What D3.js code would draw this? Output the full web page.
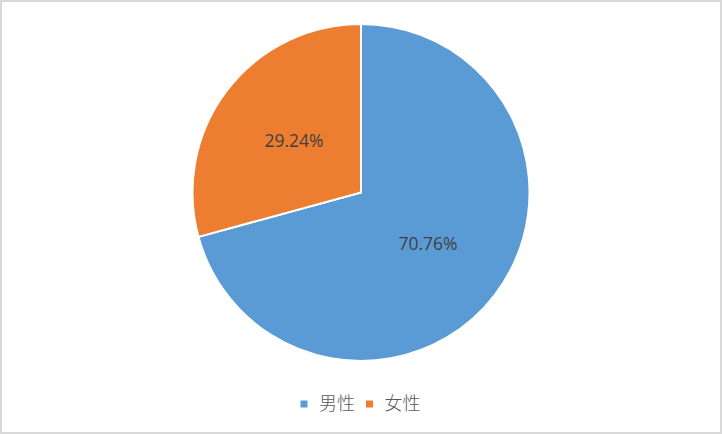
<!DOCTYPE html>
<html>
<head>
<meta charset="utf-8">
<script src="https://cdn.jsdelivr.net/npm/d3@7"></script>
<style>
  html, body { margin: 0; padding: 0; background: #fff; }
  svg { display: block; }
</style>
</head>
<body>
<div id="chart"></div>
<script>
const categories = ["男性", "女性"];
const shares = [70.76, 29.24];
const sliceColors = ["#5B9BD5", "#ED7D31"];

const W = 722, H = 434;
const cx = 361, cy = 192.5, radius = 168.5;

const svg = d3.select("#chart")
              .append("svg")
              .attr("width", W)
              .attr("height", H);

// frame
svg.append("rect")
   .attr("x", 1).attr("y", 1)
   .attr("width", W - 2).attr("height", H - 2)
   .attr("fill", "#fff")
   .attr("stroke", "#d9d9d9")
   .attr("stroke-width", 2);

const data = categories.map((c, i) => ({ name: c, value: shares[i], color: sliceColors[i] }));

const pie = d3.pie().sort(null).value(d => d.value);
const arc = d3.arc().innerRadius(0).outerRadius(radius);
const labelArc = d3.arc().innerRadius(radius / 2).outerRadius(radius / 2);

const g = svg.append("g").attr("transform", `translate(${cx},${cy})`);

const arcs = pie(data);

g.selectAll("path.slice")
 .data(arcs)
 .enter()
 .append("path")
 .attr("class", "slice")
 .attr("d", arc)
 .attr("fill", d => d.data.color)
 .attr("stroke", "#fff")
 .attr("stroke-width", 2)
 .attr("stroke-linejoin", "miter");

g.selectAll("text.lbl")
 .data(arcs)
 .enter()
 .append("text")
 .attr("class", "lbl")
 .attr("transform", d => `translate(${labelArc.centroid(d)})`)
 .attr("text-anchor", "middle")
 .attr("dy", "0.35em")
 .attr("font-family", "'Open Sans', 'Liberation Sans', sans-serif")
 .attr("font-size", 17.5)
 .attr("fill", "#404040")
 .text(d => d.data.value.toFixed(2) + "%");

// legend
const legendX = [300.5, 366];
const legend = svg.append("g");
const items = legend.selectAll("g.item")
  .data(data)
  .enter()
  .append("g")
  .attr("class", "item")
  .attr("transform", (d, i) => `translate(${legendX[i]},404)`);

items.append("rect")
     .attr("x", 0).attr("y", -3.5)
     .attr("width", 7).attr("height", 7)
     .attr("fill", d => d.color);

items.append("text")
     .attr("x", 18.5)
     .attr("dy", "0.36em")
     .attr("font-family", "'Noto Sans CJK SC', sans-serif")
     .attr("font-weight", 300)
     .attr("font-size", 18)
     .attr("fill", "#595959")
     .text(d => d.name);
</script>
</body>
</html>
